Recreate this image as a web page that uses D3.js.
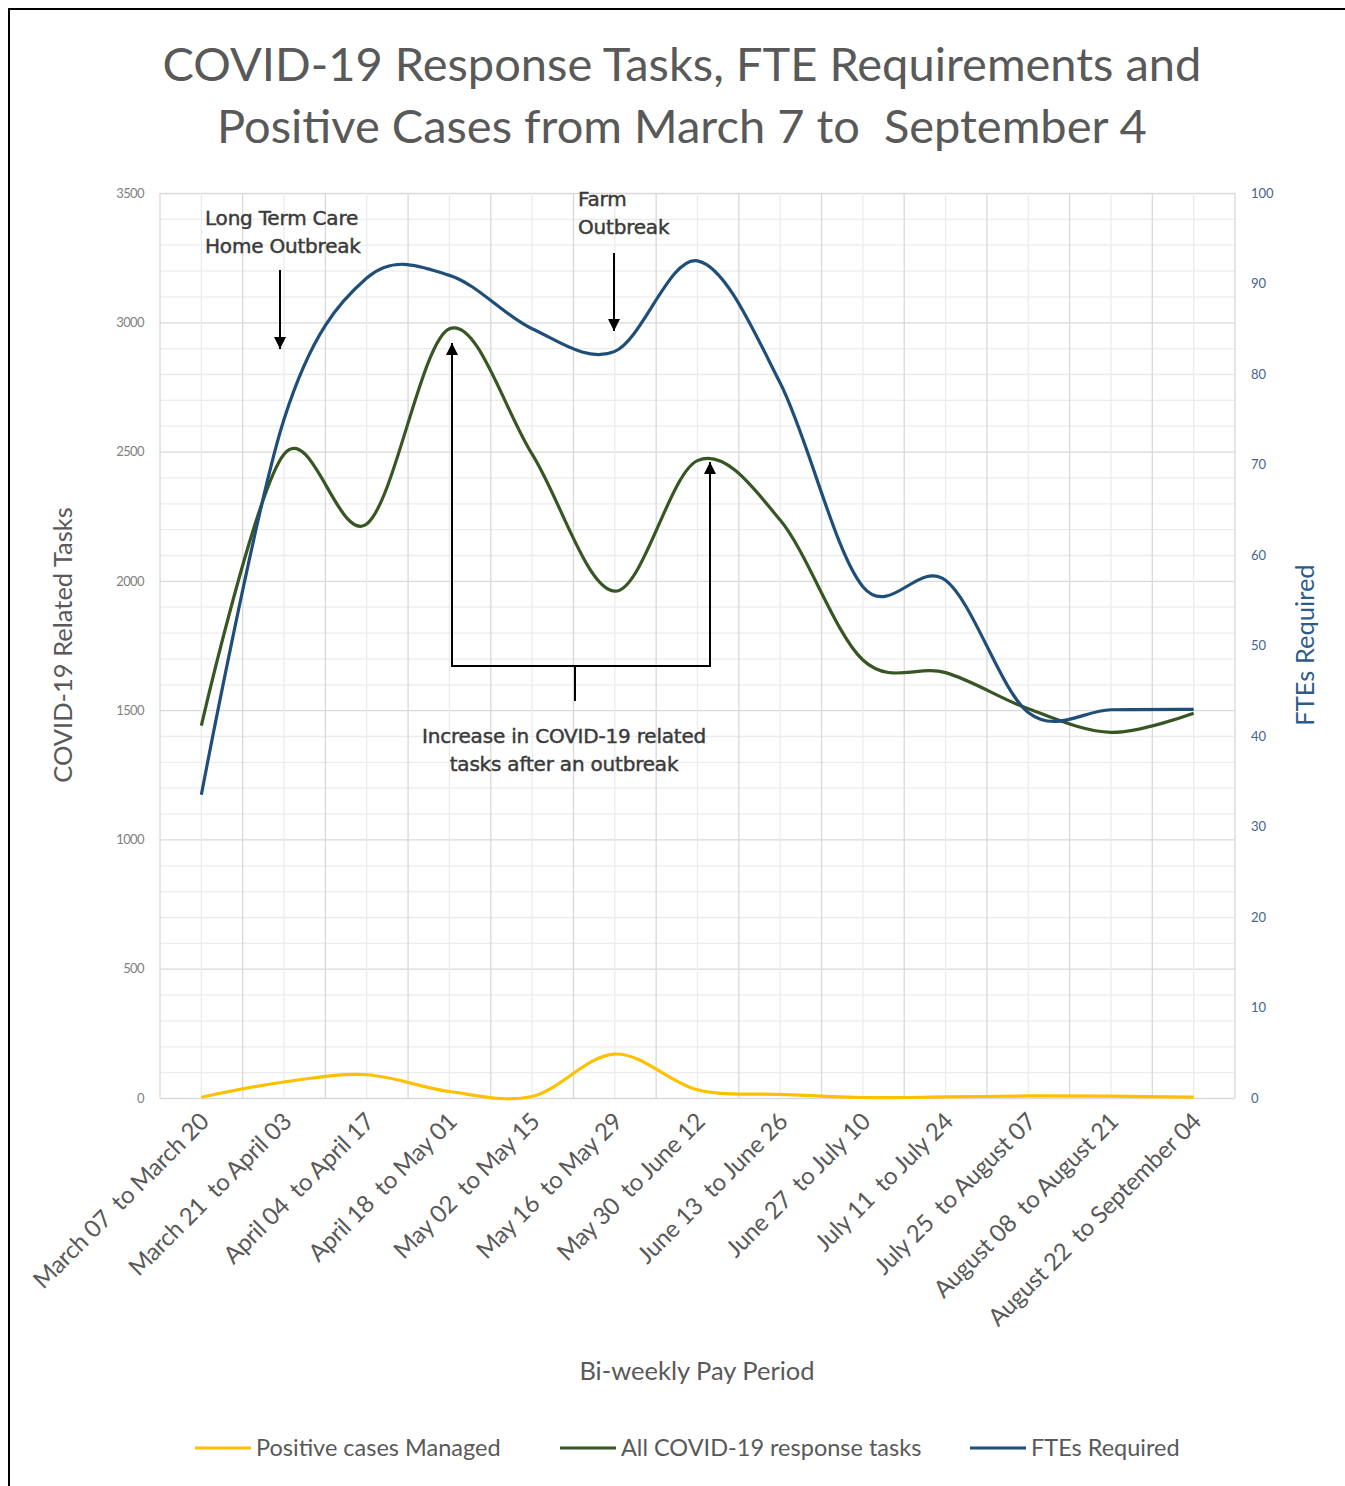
<!DOCTYPE html>
<html>
<head>
<meta charset="utf-8">
<script src="https://cdn.jsdelivr.net/npm/d3@7"></script>
<style>
  html, body { margin: 0; padding: 0; background: #fff; }
  svg { display: block; }
  text { white-space: pre; }
</style>
</head>
<body>
<svg id="chart" width="1345" height="1486" font-family="Lato, 'Open Sans', sans-serif"></svg>
<script>
// Bi-weekly pay periods
const periods = [
  "March 07  to March 20", "March 21  to April 03", "April 04  to April 17",
  "April 18  to May 01", "May 02  to May 15", "May 16  to May 29",
  "May 30  to June 12", "June 13  to June 26", "June 27  to July 10",
  "July 11  to July 24", "July 25  to August 07", "August 08  to August 21",
  "August 22  to September 04"
];

// Positive cases managed (left axis)
const positiveCases = [3, 62, 90, 25, 6, 170, 32, 14, 2, 4, 8, 7, 3];
// All COVID-19 response tasks (left axis)
const responseTasks = [1440, 2490, 2220, 2975, 2490, 1960, 2465, 2235, 1694, 1645, 1505, 1414, 1488];
// FTEs required (right axis)
const ftesRequired = [33.5, 75, 90.6, 90.9, 85.0, 82.5, 92.5, 79, 56.5, 57.2, 42.6, 42.9, 42.95];

const leftTicks = [0, 500, 1000, 1500, 2000, 2500, 3000, 3500];
const rightTicks = [0, 10, 20, 30, 40, 50, 60, 70, 80, 90, 100];

const seriesNames = ["Positive cases Managed", "All COVID-19 response tasks", "FTEs Required"];
const seriesColors = ["#ffc000", "#375623", "#1f4e79"];

const svg = d3.select("#chart");

// frame
svg.append("line").attr("x1", 9).attr("x2", 9).attr("y1", 9).attr("y2", 1486)
  .attr("stroke", "#000").attr("stroke-width", 2);
svg.append("line").attr("x1", 8).attr("x2", 1345).attr("y1", 9).attr("y2", 9)
  .attr("stroke", "#000").attr("stroke-width", 2);

const plot = { left: 160, right: 1235, top: 193, bottom: 1098 };

const x = d3.scaleBand().domain(periods).range([plot.left, plot.right]);
const cx = d => x(d) + x.bandwidth() / 2;
const yL = d3.scaleLinear().domain([0, 3500]).range([plot.bottom, plot.top]);
const yR = d3.scaleLinear().domain([0, 100]).range([plot.bottom, plot.top]);

// gridlines
const grid = svg.append("g");
grid.selectAll("line.hminor").data(d3.range(0, 3501, 100))
  .join("line").attr("x1", plot.left).attr("x2", plot.right)
  .attr("y1", d => yL(d) + 0.5).attr("y2", d => yL(d) + 0.5)
  .attr("stroke", d => d % 500 === 0 ? "#d9d9d9" : "#ececec").attr("stroke-width", 1.3);
grid.selectAll("line.vminor").data(periods)
  .join("line").attr("y1", plot.top).attr("y2", plot.bottom)
  .attr("x1", d => cx(d)).attr("x2", d => cx(d))
  .attr("stroke", "#ececec").attr("stroke-width", 1.3);
grid.selectAll("line.vmajor").data(periods.map(p => x(p)).concat([plot.right]))
  .join("line").attr("y1", plot.top).attr("y2", plot.bottom)
  .attr("x1", d => d).attr("x2", d => d)
  .attr("stroke", "#d9d9d9").attr("stroke-width", 1.3);

// left axis
const axL = svg.append("g").attr("transform", `translate(${plot.left},0)`)
  .call(d3.axisLeft(yL).tickValues(leftTicks).tickFormat(d3.format("d")).tickSize(0).tickPadding(16));
axL.select(".domain").remove();
axL.selectAll("text").attr("font-size", 13).attr("fill", "#7f7f7f")
  .attr("font-family", "Lato, sans-serif").attr("letter-spacing", -0.6);

// right axis
const axR = svg.append("g").attr("transform", `translate(${plot.right},0)`)
  .call(d3.axisRight(yR).tickValues(rightTicks).tickSize(0).tickPadding(16));
axR.select(".domain").remove();
axR.selectAll("text").attr("font-size", 13).attr("fill", "#44648c")
  .attr("font-family", "Lato, sans-serif");

// bottom axis labels (rotated)
const axB = svg.append("g").attr("transform", `translate(0,${plot.bottom})`)
  .call(d3.axisBottom(x).tickSize(0).tickPadding(0));
axB.select(".domain").remove();
axB.selectAll(".tick text")
  .attr("font-size", 24).attr("fill", "#595959").attr("font-family", "Lato, sans-serif")
  .attr("letter-spacing", -0.3)
  .attr("text-anchor", "end").attr("dy", 0).attr("y", 0)
  .attr("transform", "translate(9,25) rotate(-45)");

// titles
svg.append("text").attr("x", 682).attr("y", 81).attr("text-anchor", "middle")
  .attr("font-size", 47).attr("fill", "#595959")
  .text("COVID-19 Response Tasks, FTE Requirements and");
svg.append("text").attr("x", 682).attr("y", 143).attr("text-anchor", "middle")
  .attr("font-size", 47).attr("fill", "#595959")
  .text("Positive Cases from March 7 to  September 4");

svg.append("text").attr("transform", "translate(72,645) rotate(-90)")
  .attr("text-anchor", "middle").attr("font-size", 25.5).attr("fill", "#595959")
  .text("COVID-19 Related Tasks");
svg.append("text").attr("transform", "translate(1314,645) rotate(-90)")
  .attr("text-anchor", "middle").attr("font-size", 25.5).attr("fill", "#2e5c8a")
  .text("FTEs Required");
svg.append("text").attr("x", 697).attr("y", 1380).attr("text-anchor", "middle")
  .attr("font-size", 25.5).attr("fill", "#595959")
  .text("Bi-weekly Pay Period");

// series lines
const curve = d3.curveCardinal.tension(0);
const lineL = d3.line().x((d, i) => cx(periods[i])).y(d => yL(d)).curve(curve);
const lineR = d3.line().x((d, i) => cx(periods[i])).y(d => yR(d)).curve(curve);

svg.append("path").attr("d", lineL(positiveCases)).attr("fill", "none")
  .attr("stroke", seriesColors[0]).attr("stroke-width", 3.2);
svg.append("path").attr("d", lineL(responseTasks)).attr("fill", "none")
  .attr("stroke", seriesColors[1]).attr("stroke-width", 3.2);
svg.append("path").attr("d", lineR(ftesRequired)).attr("fill", "none")
  .attr("stroke", seriesColors[2]).attr("stroke-width", 3.2);

// annotations
const defs = svg.append("defs");
defs.append("marker").attr("id", "arrow").attr("viewBox", "0 0 10 10")
  .attr("refX", 10).attr("refY", 5).attr("markerWidth", 6).attr("markerHeight", 6)
  .attr("markerUnits", "strokeWidth").attr("orient", "auto")
  .append("path").attr("d", "M0,0 L10,5 L0,10 Z").attr("fill", "#000");

const ann = svg.append("g");
const annText = (lines, x0, y0, anchor) => {
  lines.forEach((t, i) => ann.append("text").attr("x", x0).attr("y", y0 + i * 28)
    .attr("text-anchor", anchor || "start").attr("font-size", 20)
    .attr("fill", "#3a3a3a").attr("stroke", "#3a3a3a").attr("stroke-width", 0.45)
    .attr("font-family", "'DejaVu Sans', sans-serif")
    .attr("letter-spacing", -0.2).text(t));
};
annText(["Long Term Care", "Home Outbreak"], 205, 225);
annText(["Farm", "Outbreak"], 578, 206);
annText(["Increase in COVID-19 related", "tasks after an outbreak"], 564, 743, "middle");

const arrow = (x1, y1, x2, y2) => ann.append("line")
  .attr("x1", x1).attr("y1", y1).attr("x2", x2).attr("y2", y2)
  .attr("stroke", "#000").attr("stroke-width", 2).attr("marker-end", "url(#arrow)");
arrow(280, 270, 280, 349);
arrow(614, 253, 614, 331);
arrow(452, 666, 452, 343);
arrow(710, 666, 710, 462);
ann.append("line").attr("x1", 451).attr("x2", 711).attr("y1", 666).attr("y2", 666)
  .attr("stroke", "#000").attr("stroke-width", 2);
ann.append("line").attr("x1", 575).attr("x2", 575).attr("y1", 666).attr("y2", 701)
  .attr("stroke", "#000").attr("stroke-width", 2);

// legend
const legendX = [195, 560, 970];
const leg = svg.append("g");
seriesNames.forEach((name, i) => {
  leg.append("line").attr("x1", legendX[i]).attr("x2", legendX[i] + 56)
    .attr("y1", 1448).attr("y2", 1448)
    .attr("stroke", seriesColors[i]).attr("stroke-width", 3.2);
  leg.append("text").attr("x", legendX[i] + 61).attr("y", 1456)
    .attr("font-size", 23.5).attr("fill", "#595959").text(name);
});
</script>
</body>
</html>
